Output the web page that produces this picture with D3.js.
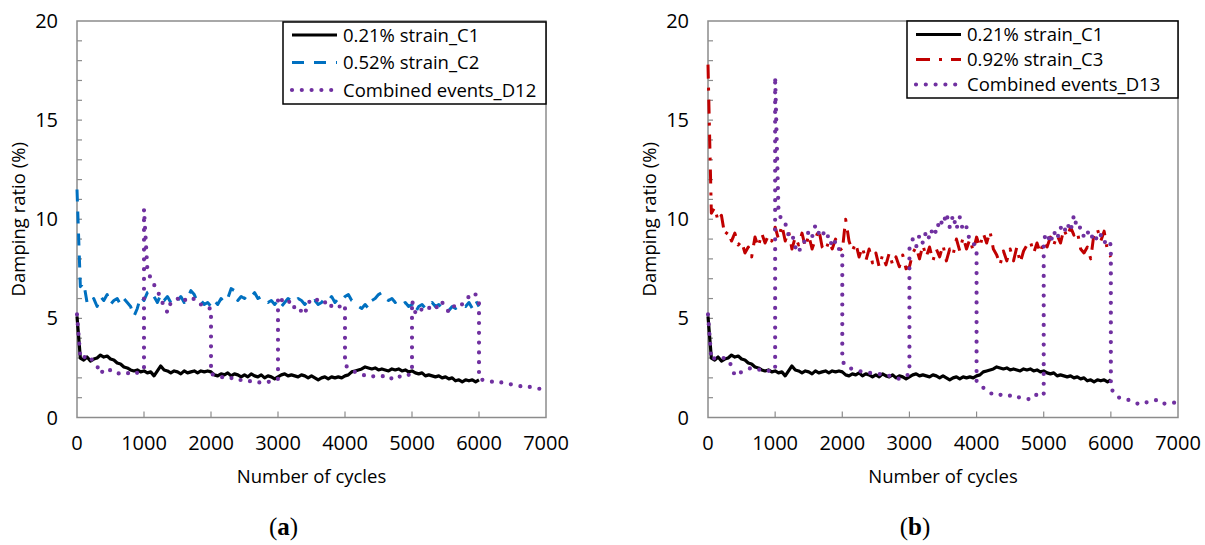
<!DOCTYPE html>
<html>
<head>
<meta charset="utf-8">
<script src="https://cdn.jsdelivr.net/npm/d3@7"></script>
<style>
  body { margin: 0; background: #fff; }
  text { font-family: "Open Sans", sans-serif; fill: #000; }
</style>
</head>
<body>
<script>
var W = 1205, H = 545;

// cycles between two readings
var cycleStep = 50;
var xTicks = [0, 1000, 2000, 3000, 4000, 5000, 6000, 7000];
var yTicks = [0, 5, 10, 15, 20];

// 0.21% strain_C1, read every 50 cycles from 0 to 6000 (same in both panels)
var strainC1 = [
  5.1, 3.0, 2.9, 3.05, 2.85, 2.95, 3.0, 3.15, 3.05, 3.1,
  2.95, 2.9, 2.75, 2.7, 2.55, 2.5, 2.4, 2.35, 2.4, 2.3,
  2.35, 2.25, 2.3, 2.1, 2.35, 2.6, 2.4, 2.35, 2.25, 2.35,
  2.3, 2.2, 2.35, 2.25, 2.3, 2.35, 2.25, 2.35, 2.3, 2.35,
  2.3, 2.15, 2.1, 2.2, 2.15, 2.25, 2.1, 2.2, 2.15, 2.05,
  2.15, 2.05, 2.2, 2.1, 2.05, 2.15, 2.0, 2.1, 2.05, 1.95,
  2.05, 2.15, 2.2, 2.1, 2.15, 2.1, 2.05, 2.15, 2.1, 2.0,
  2.1, 2.0, 1.9, 2.0, 2.05, 1.95, 2.05, 2.0, 2.05, 2.0,
  2.1, 2.15, 2.3, 2.35, 2.4, 2.45, 2.55, 2.5, 2.45, 2.5,
  2.4, 2.45, 2.4, 2.35, 2.45, 2.4, 2.45, 2.35, 2.4, 2.3,
  2.35, 2.25, 2.2, 2.25, 2.1, 2.15, 2.1, 2.05, 2.1, 2.0,
  2.05, 1.95, 2.0, 1.85, 1.9, 1.8, 1.9, 1.85, 1.9, 1.8,
  1.9
];

// 0.52% strain_C2, every 50 cycles from 0 to 6000
var strainC2 = [
  11.5, 6.6, 6.8, 5.8, 5.7, 6.0, 5.6, 6.1, 5.9, 6.2,
  5.7, 5.9, 6.0, 5.7, 6.0, 5.8, 5.6, 5.1, 5.5, 6.1,
  5.9, 6.3, 6.4, 6.1, 5.8, 6.2, 5.9, 6.1, 5.8, 6.0,
  5.9, 6.1, 5.8, 6.0, 6.4, 6.2, 5.8, 5.9, 5.7, 5.8,
  5.6, 5.9, 5.7, 6.0, 5.8, 6.0, 6.5, 6.4, 5.9, 6.1,
  6.0, 6.2, 6.1, 6.3, 6.0, 6.1, 5.9, 5.8, 5.9, 5.7,
  5.9, 5.6, 5.8, 6.0, 5.9, 5.8, 6.0, 5.9, 5.7, 5.9,
  5.8, 5.9, 5.7, 5.8, 6.0, 5.9, 6.1, 5.8, 6.0, 5.9,
  6.1, 6.2, 5.9, 5.8, 5.6, 5.5, 5.7, 5.5, 5.9, 6.0,
  6.2, 6.3, 6.0, 5.9, 6.0, 5.8, 5.9, 5.7, 5.8, 5.6,
  5.7, 5.3, 5.6, 5.7, 5.5, 5.6, 5.8, 5.6, 5.7, 5.5,
  5.6, 5.4, 5.6, 5.5, 5.6, 5.7, 5.6, 5.8, 5.5, 5.9,
  5.6
];

// 0.92% strain_C3, every 50 cycles from 0 to 6000
var strainC3 = [
  17.8, 10.3, 10.6, 9.9, 10.2, 9.2, 9.4, 8.9, 9.3, 8.7,
  8.9, 8.3, 8.6, 8.1, 9.1, 8.6, 9.3, 8.8, 9.2, 8.9,
  9.6, 9.0, 9.7, 8.9, 9.4, 8.5, 9.1, 8.7, 9.3, 8.6,
  9.2, 8.5, 9.0, 9.5, 8.6, 8.4, 8.9, 8.5, 9.0, 8.6,
  8.4, 10.0, 8.9, 8.4, 8.8, 8.1, 8.6, 7.9, 8.5, 7.8,
  8.3, 7.6, 8.2, 7.7, 8.3, 7.7, 8.1, 7.6, 8.2, 7.5,
  7.6, 8.3, 8.6, 8.0, 8.7, 8.1, 8.6, 7.9, 8.5, 8.1,
  8.7, 7.9, 8.5, 8.2, 9.0, 8.4, 9.1, 8.5, 9.0, 8.4,
  9.1, 8.6, 9.3, 8.8, 9.4, 8.5, 8.2, 7.7, 8.4, 7.9,
  8.5, 7.9, 8.6, 7.8, 8.4, 8.7, 8.9, 8.3, 8.8, 8.3,
  8.9, 8.6, 9.1, 8.7, 9.2, 8.8, 9.5, 9.1, 9.6, 9.2,
  9.4, 8.5, 8.3, 8.6, 8.0, 9.3, 9.5, 8.9, 9.4, 8.4,
  8.1
];

// Combined events_D12: one block per 1000 cycles, 50-cycle readings, both ends included
var eventsD12 = [
  [5.2, 3.0, 3.1, 2.9, 3.0, 2.8, 2.6, 2.2, 2.4, 2.3, 2.4, 2.3, 2.2, 2.25, 2.3, 2.25, 2.2, 2.3, 2.25, 2.35, 2.45],
  [10.5, 7.5, 7.0, 6.7, 6.4, 6.0, 5.6, 5.3, 5.8, 5.9, 6.0, 5.8, 5.9, 6.0, 5.9, 6.0, 5.8, 5.7, 5.6, 5.5, 5.5],
  [2.2, 2.15, 2.1, 2.05, 2.0, 2.05, 2.0, 1.9, 1.85, 1.9, 1.85, 1.8, 1.85, 1.8, 1.75, 1.8, 1.75, 1.8, 1.8, 1.85, 1.95],
  [6.1, 5.9, 6.0, 5.8, 5.9, 5.5, 5.3, 5.4, 5.2, 5.8, 5.9, 5.8, 6.0, 5.9, 5.8, 5.9, 5.6, 5.5, 5.6, 5.6, 5.7],
  [2.65, 2.5, 2.4, 2.3, 2.25, 2.2, 2.1, 2.15, 2.1, 2.05, 2.1, 2.1, 2.05, 2.1, 1.95, 1.9, 2.05, 2.1, 2.05, 2.15, 2.25],
  [5.9, 5.3, 5.2, 5.5, 5.6, 5.5, 5.7, 5.6, 5.5, 5.8, 5.6, 5.3, 5.5, 5.7, 5.8, 5.7, 5.9, 6.1, 6.3, 6.2, 5.9],
  [2.0, 1.9, 1.85, 1.85, 1.8, 1.85, 1.8, 1.75, 1.7, 1.7, 1.65, 1.6, 1.6, 1.55, 1.6, 1.55, 1.5, 1.5, 1.45, 1.45, 1.4]
];

// Combined events_D13, same layout
var eventsD13 = [
  [5.2, 2.9, 3.0, 3.05, 3.0, 3.0, 2.9, 2.6, 2.1, 2.2, 2.3, 2.4, 2.45, 2.5, 2.45, 2.4, 2.45, 2.4, 2.35, 2.4, 2.4],
  [17.2, 10.4, 9.9, 9.8, 9.2, 9.3, 8.6, 8.3, 8.8, 8.9, 9.4, 9.1, 9.7, 9.3, 9.5, 9.0, 9.2, 8.6, 8.9, 8.5, 8.5],
  [2.85, 2.6, 2.5, 2.45, 2.4, 2.35, 2.3, 2.3, 2.25, 2.25, 2.2, 2.2, 2.15, 2.1, 2.1, 2.05, 2.0, 1.95, 2.05, 2.1, 2.2],
  [8.5, 9.0, 8.6, 9.2, 8.8, 9.4, 9.0, 9.6, 9.3, 10.0, 9.7, 10.3, 9.6, 10.2, 9.5, 10.1, 9.4, 9.6, 8.9, 8.8, 8.5],
  [1.85, 1.65, 1.5, 1.35, 1.25, 1.15, 1.1, 1.15, 1.1, 1.15, 1.1, 1.0, 1.05, 1.0, 1.0, 0.95, 0.9, 1.1, 1.15, 1.15, 1.1],
  [9.0, 9.3, 8.8, 9.4, 9.0, 9.6, 9.3, 9.8, 9.4, 10.2, 9.5, 9.6, 9.1, 9.4, 9.0, 9.3, 8.9, 9.2, 8.8, 9.0, 8.7],
  [1.5, 1.2, 1.05, 0.95, 0.9, 0.9, 0.85, 0.75, 0.7, 0.8, 0.8, 0.75, 0.8, 0.85, 0.9, 0.75, 0.7, 0.75, 0.75, 0.75, 0.75]
];

function toPoints(vals) {
  return vals.map(function(v, i) { return { x: i * cycleStep, y: v }; });
}
function segPoints(blocks) {
  var pts = [];
  blocks.forEach(function(b, k) {
    b.forEach(function(v, i) { pts.push({ x: k * 1000 + i * cycleStep, y: v }); });
  });
  return pts;
}

var styles = {
  c1: { stroke: "#000", width: 3.2, dash: null, cap: "butt" },
  c2: { stroke: "#0070C0", width: 3, dash: "12,10", cap: "butt" },
  c3: { stroke: "#C00000", width: 3, dash: "14,9,3,9", cap: "butt" },
  d:  { stroke: "#7030A0", width: 4.2, dash: "0,9.8", cap: "round" }
};

var svg = d3.select("body").append("svg").attr("width", W).attr("height", H);

function panel(left, right, series, legend, caption) {
  var top = 21, bottom = 417.5;
  var x = d3.scaleLinear().domain([0, 7000]).range([left, right]);
  var y = d3.scaleLinear().domain([0, 20]).range([bottom, top]);
  var g = svg.append("g");

  // plot frame
  g.append("rect").attr("x", left).attr("y", top)
   .attr("width", right - left).attr("height", bottom - top)
   .attr("fill", "none").attr("stroke", "#8c8c8c").attr("stroke-width", 1.5);

  // y ticks every 1, inside
  g.append("g").selectAll("line").data(d3.range(1, 20)).enter().append("line")
   .attr("x1", left).attr("x2", left + 5)
   .attr("y1", function(d) { return y(d); }).attr("y2", function(d) { return y(d); })
   .attr("stroke", "#8c8c8c").attr("stroke-width", 1.2);
  // x ticks inside
  g.append("g").selectAll("line").data(xTicks.slice(1, -1)).enter().append("line")
   .attr("x1", function(d) { return x(d); }).attr("x2", function(d) { return x(d); })
   .attr("y1", bottom).attr("y2", bottom - 6)
   .attr("stroke", "#8c8c8c").attr("stroke-width", 1.2);

  g.append("g").selectAll("text").data(yTicks).enter().append("text")
   .attr("x", left - 19).attr("y", function(d) { return y(d) + 7; })
   .attr("text-anchor", "end").style("font-size", "20px")
   .text(function(d) { return d; });
  g.append("g").selectAll("text").data(xTicks).enter().append("text")
   .attr("x", function(d) { return x(d); }).attr("y", 450)
   .attr("text-anchor", "middle").style("font-size", "20px")
   .text(function(d) { return d; });

  g.append("text").attr("x", (left + right) / 2).attr("y", 483)
   .attr("text-anchor", "middle").style("font-size", "18.5px").text("Number of cycles");
  g.append("text")
   .attr("transform", "translate(" + (left - 52) + "," + ((top + bottom) / 2) + ") rotate(-90)")
   .attr("text-anchor", "middle").style("font-size", "18.5px").text("Damping ratio (%)");

  var line = d3.line().x(function(d) { return x(d.x); }).y(function(d) { return y(d.y); });
  series.forEach(function(s) {
    g.append("path").datum(s.points).attr("d", line)
     .attr("fill", "none").attr("stroke", s.style.stroke)
     .attr("stroke-width", s.style.width)
     .attr("stroke-dasharray", s.style.dash)
     .attr("stroke-linecap", s.style.cap)
     .attr("stroke-linejoin", "round");
  });

  // legend
  var lg = g.append("g");
  lg.append("rect").attr("x", legend.x).attr("y", legend.y)
    .attr("width", right - legend.x).attr("height", legend.h)
    .attr("fill", "#fff").attr("stroke", "#000").attr("stroke-width", 1.5);
  series.forEach(function(s, i) {
    var cy = legend.y + legend.first + i * legend.gap;
    lg.append("line").attr("x1", legend.x + 9).attr("x2", legend.x + 54)
      .attr("y1", cy).attr("y2", cy)
      .attr("stroke", s.style.stroke).attr("stroke-width", s.style.width)
      .attr("stroke-dasharray", s.style.dash).attr("stroke-linecap", s.style.cap);
    lg.append("text").attr("x", legend.x + 60).attr("y", cy + 6.5)
      .style("font-size", "18.5px").text(s.name);
  });

  var cap = svg.append("text").attr("x", (left + right) / 2 - 28).attr("y", 535)
    .attr("text-anchor", "middle")
    .style("font-family", "'Liberation Serif', serif").style("font-size", "25px");
  cap.append("tspan").text("(");
  cap.append("tspan").style("font-weight", "bold").text(caption);
  cap.append("tspan").text(")");
}

panel(77, 546, [
  { name: "0.21% strain_C1", points: toPoints(strainC1), style: styles.c1 },
  { name: "0.52% strain_C2", points: toPoints(strainC2), style: styles.c2 },
  { name: "Combined events_D12", points: segPoints(eventsD12), style: styles.d }
], { x: 283, y: 22, h: 82, first: 13, gap: 27.5 }, "a");

panel(708, 1178, [
  { name: "0.21% strain_C1", points: toPoints(strainC1), style: styles.c1 },
  { name: "0.92% strain_C3", points: toPoints(strainC3), style: styles.c3 },
  { name: "Combined events_D13", points: segPoints(eventsD13), style: styles.d }
], { x: 907, y: 21, h: 77, first: 13.5, gap: 25 }, "b");
</script>
</body>
</html>
